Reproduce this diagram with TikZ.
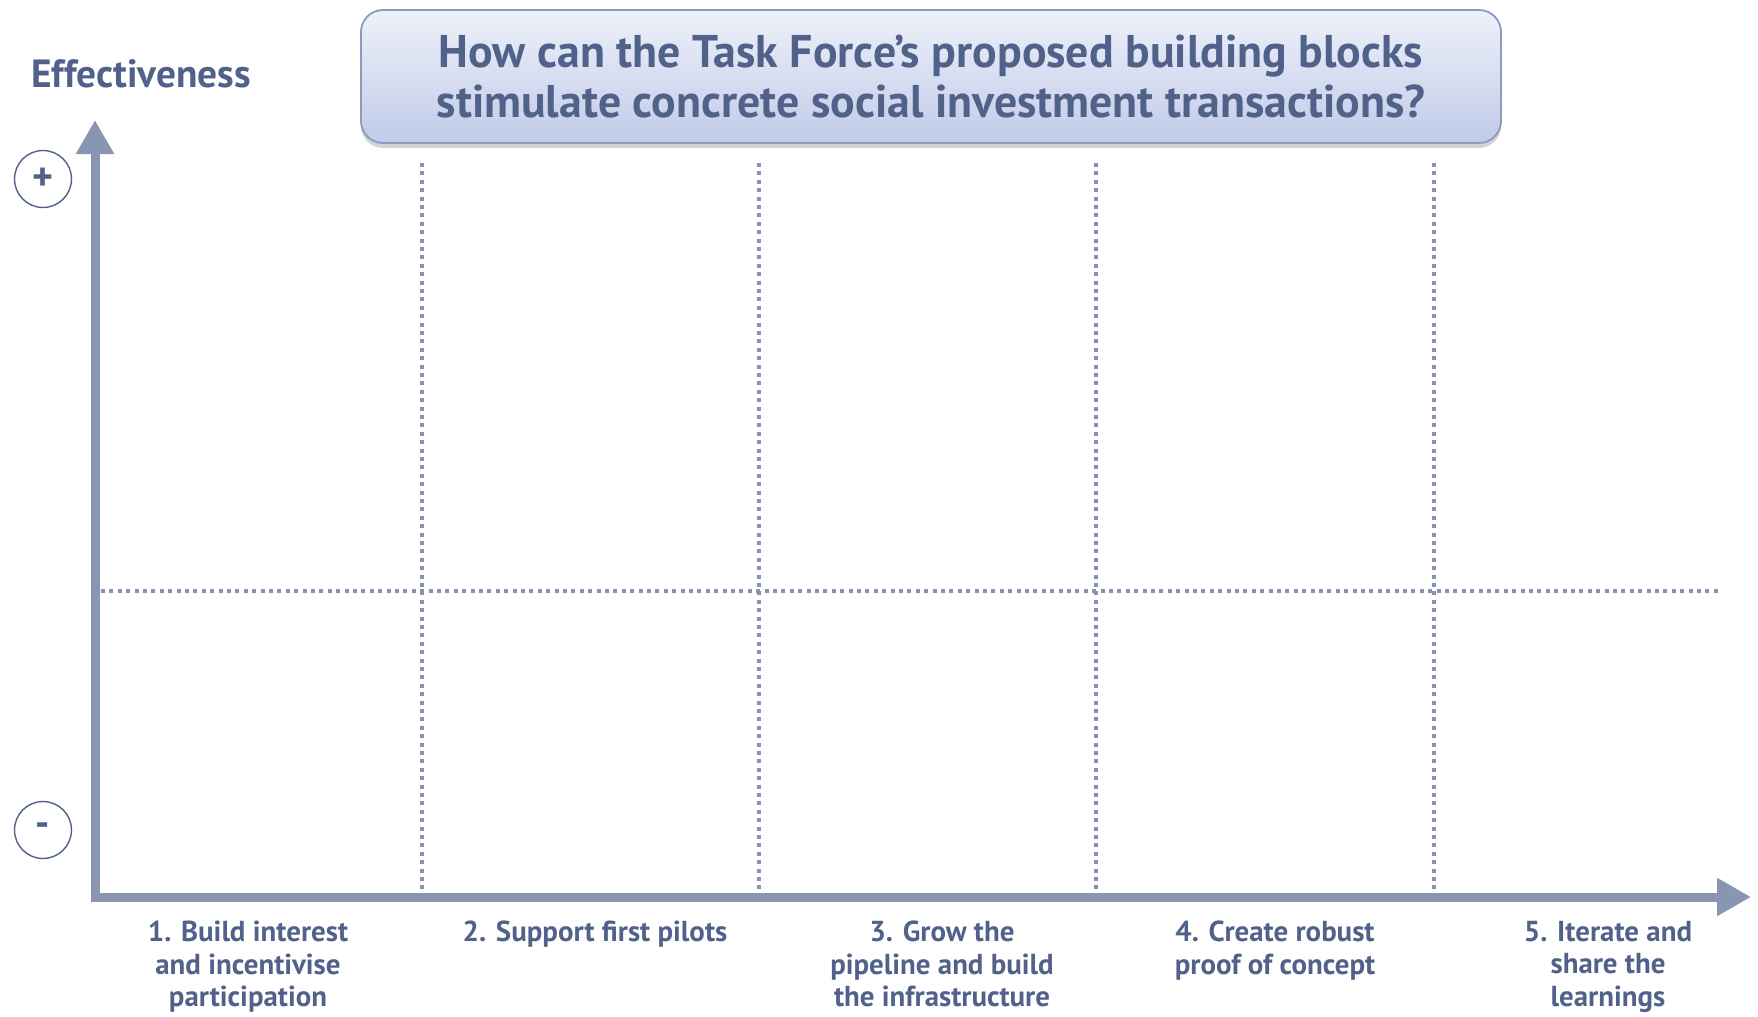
\documentclass[tikz,border=0pt]{standalone}
\usepackage{fontspec}
\setmainfont{PT Sans}
\usetikzlibrary{arrows.meta,shadows}
\definecolor{txtblue}{RGB}{80,97,138}
\definecolor{axisgray}{RGB}{137,150,178}
\definecolor{dotgray}{RGB}{134,146,176}
\definecolor{boxtop}{RGB}{238,241,250}
\definecolor{boxbot}{RGB}{193,203,232}
\definecolor{boxline}{RGB}{140,154,192}
\tikzset{
  axisline/.style={line width=9bp, draw=axisgray, line join=miter,
    {Triangle[length=34bp,width=36bp]}-{Triangle[length=34bp,width=36bp]}},
  gridline/.style={line width=4bp, draw=dotgray, dash pattern=on 4bp off 4.4bp},
  steplabel/.style={text=txtblue, font=\fontsize{29}{32.5}\selectfont\bfseries,
    align=center, anchor=north, inner sep=0pt},
  signnode/.style={circle, draw=txtblue, line width=1.4bp, minimum size=57bp,
    inner sep=0pt, text=txtblue, font=\fontsize{40}{40}\selectfont\bfseries},
  titlebox/.style={rounded corners=22bp, draw=boxline, line width=1.8bp,
    top color=boxtop, bottom color=boxbot, minimum width=1140bp, minimum height=133bp,
    drop shadow={opacity=.35, shadow xshift=0bp, shadow yshift=-5bp},
    text=txtblue, font=\fontsize{46}{50}\selectfont\bfseries, align=center}
}
\begin{document}
\begin{tikzpicture}[x=1bp,y=-1bp]
  \useasboundingbox (0,0) rectangle (1758,1016);
  % title
  \node[titlebox] (title) at (931,76.5)
    {How can the Task Force’s proposed building blocks\\stimulate concrete social investment transactions?};
  \node[text=txtblue, font=\fontsize{39.5}{39.5}\selectfont\bfseries] (eff) at (141,74) {Effectiveness};
  % axes
  \coordinate (origin) at (95,897);
  \coordinate (ytip) at (95,120);
  \coordinate (xtip) at (1751,897);
  % grid
  \coordinate (hl) at (101,591);
  \coordinate (hr) at (1721,591);
  \draw[gridline] (hl) -- (hr);
  \foreach \i/\x in {1/421.5,2/759,3/1096,4/1434} {
    \coordinate (top\i) at (\x,163);
    \coordinate (bot\i) at (\x,891);
    \draw[gridline] (top\i) -- (bot\i);
  }
  \draw[axisline] (ytip) |- (xtip);
  % signs
  \node[signnode] (plus) at (43,179) {+};
  \node[signnode] (minus) at (43,830) {-};
  % steps
  \node[steplabel] (s1) at (248,921) {1. Build interest\\and incentivise\\participation};
  \node[steplabel] (s2) at (595,921) {2. Support first pilots};
  \node[steplabel] (s3) at (942,921) {3. Grow the\\pipeline and build\\the infrastructure};
  \node[steplabel] (s4) at (1275,921) {4. Create robust\\proof of concept};
  \node[steplabel] (s5) at (1608,921) {5. Iterate and\\share the\\learnings};
\end{tikzpicture}
\end{document}
